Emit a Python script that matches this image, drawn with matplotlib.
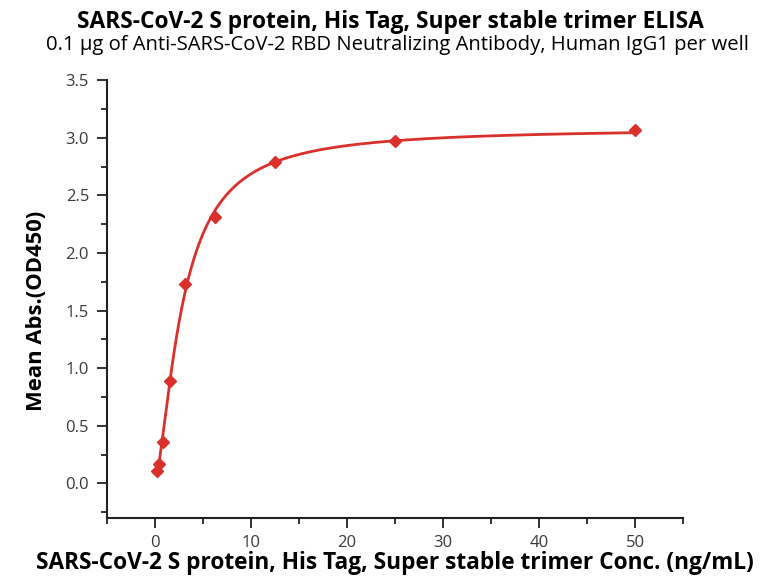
import numpy as np
import matplotlib
matplotlib.use("Agg")
import matplotlib.pyplot as plt
from matplotlib.ticker import MultipleLocator

conc = [0.195, 0.39, 0.78, 1.5625, 3.125, 6.25, 12.5, 25, 50]
od450 = [0.11, 0.165, 0.36, 0.89, 1.73, 2.31, 2.79, 2.97, 3.07]

title = "SARS-CoV-2 S protein, His Tag, Super stable trimer ELISA"
subtitle = "0.1 \u03bcg of Anti-SARS-CoV-2 RBD Neutralizing Antibody, Human IgG1 per well"
xlabel = "SARS-CoV-2 S protein, His Tag, Super stable trimer Conc. (ng/mL)"
ylabel = "Mean Abs.(OD450)"

x = np.array(conc)
y = np.array(od450)

# 4PL fit by grid search (A, D solved linearly)
best = None
for B in np.linspace(0.5, 3.0, 126):
    for logC in np.linspace(np.log(0.5), np.log(20), 200):
        C = np.exp(logC)
        g = 1.0 / (1.0 + (x / C) ** B)
        M = np.column_stack([g, 1 - g])
        coef, *_ = np.linalg.lstsq(M, y, rcond=None)
        r = np.sum((M @ coef - y) ** 2)
        if best is None or r < best[0]:
            best = (r, B, C, coef)
_, B, C, (A, D) = best
xf = np.linspace(x.min(), x.max(), 800)
yf = D + (A - D) / (1 + (xf / C) ** B)

plt.rcParams['font.family'] = ['Open Sans', 'DejaVu Sans']
red = '#d9302c'
fig = plt.figure(figsize=(7.65, 5.82), dpi=100)
ax = fig.add_axes([0.140, 0.110, 0.753, 0.752])
ax.plot(xf, yf, color=red, lw=2)
ax.plot(x, y, linestyle='none', marker='D', color=red, ms=6)
ax.set_xlim(-5, 55)
ax.set_ylim(-0.3, 3.5)
ax.xaxis.set_major_locator(MultipleLocator(10))
ax.xaxis.set_minor_locator(MultipleLocator(5))
ax.yaxis.set_major_locator(MultipleLocator(0.5))
ax.yaxis.set_minor_locator(MultipleLocator(0.25))
ax.yaxis.set_major_formatter(matplotlib.ticker.FormatStrFormatter('%.1f'))
for s in ['top', 'right']:
    ax.spines[s].set_visible(False)
for s in ['left', 'bottom']:
    ax.spines[s].set_linewidth(1.5)
    ax.spines[s].set_color('#222222')
ax.tick_params(which='major', direction='out', length=7, width=1.3, colors='#222222', labelsize=12, labelcolor='#3a3a3a', pad=6)
ax.tick_params(which='minor', direction='out', length=4, width=1.3, colors='#222222')
ax.tick_params(axis='x', pad=5)
ax.set_xlabel(xlabel, fontsize=16.3, fontweight='bold', labelpad=0)
ax.set_ylabel(ylabel, fontsize=15.8, fontweight='bold', labelpad=16)
ax.yaxis.set_label_coords(-0.105, 0.473)
fig.text(0.51, 0.962, title, ha='center', va='center', fontsize=16.4, fontweight='bold')
fig.text(0.52, 0.922, subtitle, ha='center', va='center', fontsize=14.6)
fig.savefig('out.png', dpi=100)
